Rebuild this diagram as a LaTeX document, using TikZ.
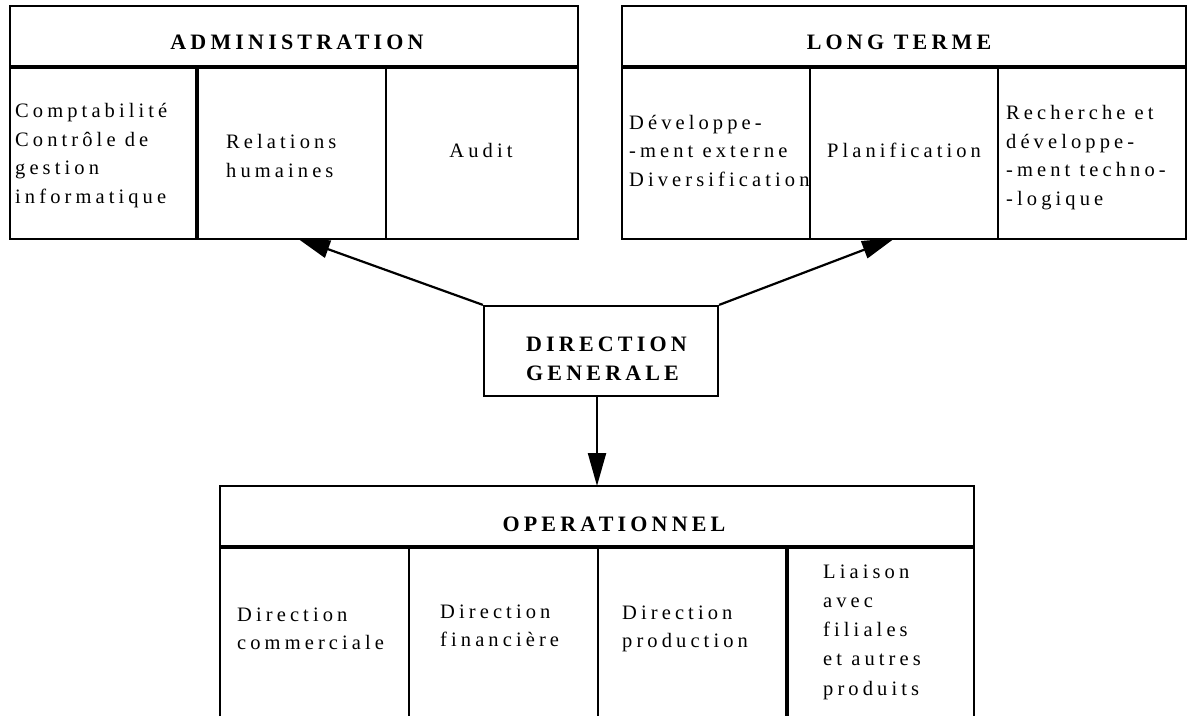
\documentclass[tikz,border=0pt]{standalone}
\usepackage{fontspec}
\setmainfont{Liberation Serif}
\newfontfamily\bodyf[LetterSpace=20]{Liberation Serif}
\newfontfamily\headf[LetterSpace=19]{Liberation Serif}
\usetikzlibrary{arrows.meta}
\begin{document}
\begin{tikzpicture}[x=1pt,y=-1pt,
  frame/.style={line width=2.2pt},
  heavy/.style={line width=4.4pt},
  body/.style={font=\bodyf\fontsize{20.5}{28.5}\selectfont, inner sep=0pt, align=left},
  head/.style={font=\headf\bfseries\fontsize{22}{29}\selectfont, inner sep=0pt, align=left},
  arr/.style={line width=2.2pt, -{Triangle[length=33pt,width=18pt]}}]
\useasboundingbox (0,0) rectangle (1191,716);

% ADMINISTRATION table
\node[draw, frame, minimum width=568pt, minimum height=233pt, inner sep=0pt, anchor=north west] (admin) at (9,5) {};
\draw[heavy] (9,67) -- (577,67);
\draw[heavy] (197,67) -- (197,238);
\draw[frame] (386,67) -- (386,238);
\node[head] (admT) at (297,42) {ADMINISTRATION};
\node[body, anchor=west] (adm1) at (15,155.5) {Comptabilité\\Contrôle de\\gestion\\informatique};
\node[body, anchor=west] (adm2) at (226,156) {Relations\\humaines};
\node[body] (adm3) at (481,150) {Audit};

% LONG TERME table
\node[draw, frame, minimum width=564pt, minimum height=233pt, inner sep=0pt, anchor=north west] (lt) at (621,5) {};
\draw[heavy] (621,67) -- (1185,67);
\draw[frame] (810,67) -- (810,238);
\draw[frame] (998,67) -- (998,238);
\node[head] (ltT) at (899,42) {LONG TERME};
\node[body, anchor=west] (lt1) at (629,150.5) {Développe-\\-ment externe\\Diversification};
\node[body] (lt2) at (904,150) {Planification};
\node[body, anchor=west] (lt3) at (1006,157.5) {Recherche et\\développe-\\-ment techno-\\-logique};

% DIRECTION GENERALE
\node[draw, frame, minimum width=234pt, minimum height=90pt, inner sep=0pt] (dg) at (601,351) {};
\node[head, anchor=west] (dgT) at (526,358.5) {DIRECTION\\GENERALE};

% OPERATIONNEL table
\coordinate (opNW) at (220,486);
\coordinate (opNE) at (974,486);
\coordinate (opTop) at (597,486);
\draw[frame] (220,716) -- (opNW) -- (opNE) -- (974,716);
\draw[heavy] (220,547) -- (974,547);
\draw[frame] (409,547) -- (409,716);
\draw[frame] (598,547) -- (598,716);
\draw[heavy] (787,547) -- (787,716);
\node[head] (opT) at (614,524) {OPERATIONNEL};
\node[body, anchor=west, font=\bodyf\fontsize{20.5}{28}\selectfont] (op1) at (237,629) {Direction\\commerciale};
\node[body, anchor=west, font=\bodyf\fontsize{20.5}{28}\selectfont] (op2) at (440,626) {Direction\\financière};
\node[body, anchor=west, font=\bodyf\fontsize{20.5}{28}\selectfont] (op3) at (622,629) {Direction\\production};
\node[body, anchor=west, font=\bodyf\fontsize{20.5}{29.2}\selectfont] (op4) at (823,632) {Liaison\\avec\\filiales\\et autres\\produits};

% connectors
\coordinate (admTip) at (297,238);
\coordinate (ltTip) at (895,238);
\draw[arr] (dg.north west) -- (admTip);
\draw[arr] (dg.north east) -- (ltTip);
\draw[arr] (dg.south -| opTop) -- (opTop);
\end{tikzpicture}
\end{document}
